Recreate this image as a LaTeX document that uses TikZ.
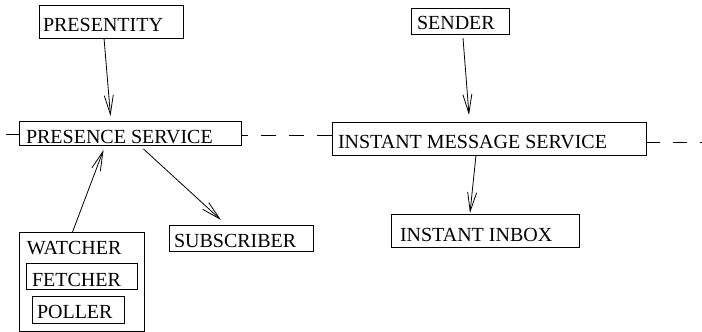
\documentclass[tikz,border=0pt]{standalone}
\usepackage{fontspec}
\setmainfont{Liberation Serif}
\usetikzlibrary{arrows.meta,calc}
\begin{document}
\begin{tikzpicture}[x=1pt,y=-1pt,
  box/.style={draw,line width=0.8pt,rectangle,anchor=north west,inner sep=0pt,outer sep=0pt},
  lbl/.style={anchor=base west,inner sep=0pt,outer sep=0pt,font=\fontsize{20}{24}\selectfont},
  conn/.style={line width=0.8pt},
  arr/.style={conn,-{Straight Barb[length=19pt,width=9pt,line width=0.8pt]}},
  dsh/.style={conn,dash pattern=on 15pt off 13pt,dash phase=8pt}]
\useasboundingbox (0,0) rectangle (702,332);
% boxes
\node[box,minimum width=144pt,minimum height=33pt] (pe) at (39,5) {};
\node[lbl] (pet) at (43,31) {PRESENTITY};
\node[box,minimum width=222pt,minimum height=24pt] (ps) at (19,121) {};
\node[lbl] (pst) at (26,143) {PRESENCE SERVICE};
\node[box,minimum width=98pt,minimum height=26pt] (se) at (411,8) {};
\node[lbl] (set) at (417,30) {SENDER};
\node[box,minimum width=314pt,minimum height=33pt] (ims) at (332,122) {};
\node[lbl] (imst) at (338,148) {INSTANT MESSAGE SERVICE};
\node[box,minimum width=188pt,minimum height=33pt] (ib) at (391,214) {};
\node[lbl] (ibt) at (400,241) {INSTANT INBOX};
\node[box,minimum width=144pt,minimum height=26pt] (sub) at (169,225) {};
\node[lbl] (subt) at (174,247) {SUBSCRIBER};
\node[box,minimum width=125pt,minimum height=99.5pt] (wa) at (19,232) {};
\node[lbl] (wat) at (27,254) {WATCHER};
\node[box,minimum width=111pt,minimum height=26pt] (fe) at (26,263) {};
\node[lbl] (fet) at (32,286) {FETCHER};
\node[box,minimum width=92pt,minimum height=27pt] (po) at (32,296) {};
\node[lbl] (pot) at (37,318) {POLLER};
% bus lines
\coordinate (l) at (6,134.5);
\coordinate (m) at (0,135.5);
\coordinate (r) at (702,142);
\draw[conn] (l) -- (ps.west |- l);
\draw[dsh] (ps.east |- m) -- (ims.west |- m);
\draw[conn,dash pattern=on 14pt off 13pt] (ims.east |- r) -- (r);
% arrows
\draw[arr] ([xshift=65pt]pe.south west) -- ([xshift=91.5pt,yshift=5pt]ps.north west);
\draw[arr] ([xshift=52pt,yshift=-4pt]se.south west) -- ([xshift=137pt,yshift=7pt]ims.north west);
\draw[arr] ([xshift=144pt]ims.south west) -- ([xshift=79pt,yshift=1pt]ib.north west);
\draw[arr] ([xshift=53.5pt]wa.north west) -- ([xshift=84.5pt,yshift=-5pt]ps.south west);
\draw[arr] ([xshift=124.5pt,yshift=-4pt]ps.south west) -- ([xshift=52pt,yshift=5pt]sub.north west);
\end{tikzpicture}
\end{document}
